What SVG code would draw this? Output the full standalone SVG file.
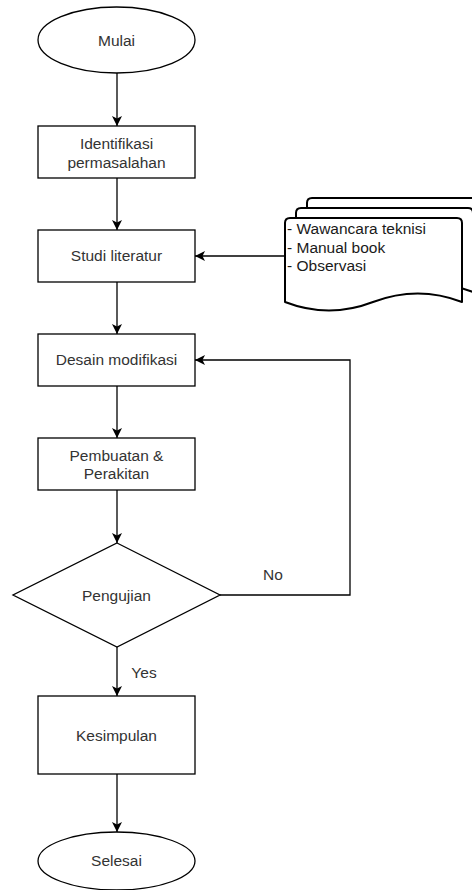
<svg xmlns="http://www.w3.org/2000/svg" width="472" height="890" viewBox="0 0 472 890">
  <defs>
    <style>
      .shape { fill: #ffffff; stroke: #000000; stroke-width: 1.3; }
      .doc { fill: #ffffff; stroke: #000000; stroke-width: 2; stroke-linejoin: round; }
      .edge { fill: none; stroke: #000000; stroke-width: 1.3; }
      .label { font-family: "Liberation Sans", Arial, Helvetica, sans-serif; font-size: 15.5px; fill: #333333; text-anchor: middle; }
      .note { font-family: "Liberation Sans", Arial, Helvetica, sans-serif; font-size: 15.5px; fill: #1a1a1a; }
    </style>
    <marker id="arrow" markerUnits="userSpaceOnUse" markerWidth="12" markerHeight="12" viewBox="-1 -6 12 12" refX="10" refY="0" orient="auto">
      <path d="M0,-5 L10,0 L0,5 L2.5,0 Z" fill="#000000"/>
    </marker>
  </defs>

  <rect width="472" height="890" fill="#ffffff"/>

  <!-- connectors -->
  <g id="edges">
    <line class="edge" x1="117" y1="73" x2="117" y2="126" marker-end="url(#arrow)"/>
    <line class="edge" x1="117" y1="178" x2="117" y2="230" marker-end="url(#arrow)"/>
    <line class="edge" x1="285" y1="256" x2="195" y2="256" marker-end="url(#arrow)"/>
    <line class="edge" x1="117" y1="282" x2="117" y2="334" marker-end="url(#arrow)"/>
    <line class="edge" x1="117" y1="386" x2="117" y2="438" marker-end="url(#arrow)"/>
    <line class="edge" x1="117" y1="490" x2="117" y2="543" marker-end="url(#arrow)"/>
    <polyline class="edge" points="220,595 350,595 350,360 195,360" marker-end="url(#arrow)"/>
    <text class="label" x="273" y="580">No</text>
    <line class="edge" x1="117" y1="647" x2="117" y2="696" marker-end="url(#arrow)"/>
    <text class="label" x="144" y="678">Yes</text>
    <line class="edge" x1="117" y1="774" x2="117" y2="832" marker-end="url(#arrow)"/>
  </g>

  <!-- start -->
  <g id="mulai">
    <ellipse class="shape" cx="116.5" cy="40" rx="78.5" ry="33"/>
    <text class="label" x="116.5" y="45.5">Mulai</text>
  </g>

  <g id="identifikasi">
    <rect class="shape" x="38" y="126" width="157" height="52"/>
    <text class="label" x="116.5" y="149">Identifikasi</text>
    <text class="label" x="116.5" y="167.5">permasalahan</text>
  </g>

  <g id="studi">
    <rect class="shape" x="38" y="230" width="157" height="52"/>
    <text class="label" x="116.5" y="261">Studi literatur</text>
  </g>

  <!-- stacked documents: sources for the literature study -->
  <g id="sumber">
    <path class="doc" d="M307,282 L307,203 Q307,198 312,198 L479,198 Q484,198 484,203 L484,282 Q440,265 395,282 Q351,299 307,282 Z"/>
    <path class="doc" d="M296,292 L296,213 Q296,208 301,208 L468,208 Q473,208 473,213 L473,292 Q429,275 384,292 Q340,309 296,292 Z"/>
    <path class="doc" d="M285,302 L285,223 Q285,218 290,218 L457,218 Q462,218 462,223 L462,302 Q418,285 373,302 Q329,319 285,302 Z"/>
    <text class="note" x="287" y="234">- Wawancara teknisi</text>
    <text class="note" x="287" y="252.5">- Manual book</text>
    <text class="note" x="287" y="271">- Observasi</text>
  </g>

  <g id="desain">
    <rect class="shape" x="38" y="334" width="157" height="52"/>
    <text class="label" x="116.5" y="365">Desain modifikasi</text>
  </g>

  <g id="pembuatan">
    <rect class="shape" x="38" y="438" width="157" height="52"/>
    <text class="label" x="116.5" y="460.5">Pembuatan &amp;</text>
    <text class="label" x="116.5" y="479">Perakitan</text>
  </g>

  <g id="pengujian">
    <polygon class="shape" points="117,543 220,595 117,647 13,595"/>
    <text class="label" x="116.5" y="601">Pengujian</text>
  </g>

  <g id="kesimpulan">
    <rect class="shape" x="38" y="696" width="157" height="78"/>
    <text class="label" x="116.5" y="741">Kesimpulan</text>
  </g>

  <!-- end -->
  <g id="selesai">
    <ellipse class="shape" cx="116.5" cy="861" rx="78.5" ry="29"/>
    <text class="label" x="116.5" y="866">Selesai</text>
  </g>
</svg>
